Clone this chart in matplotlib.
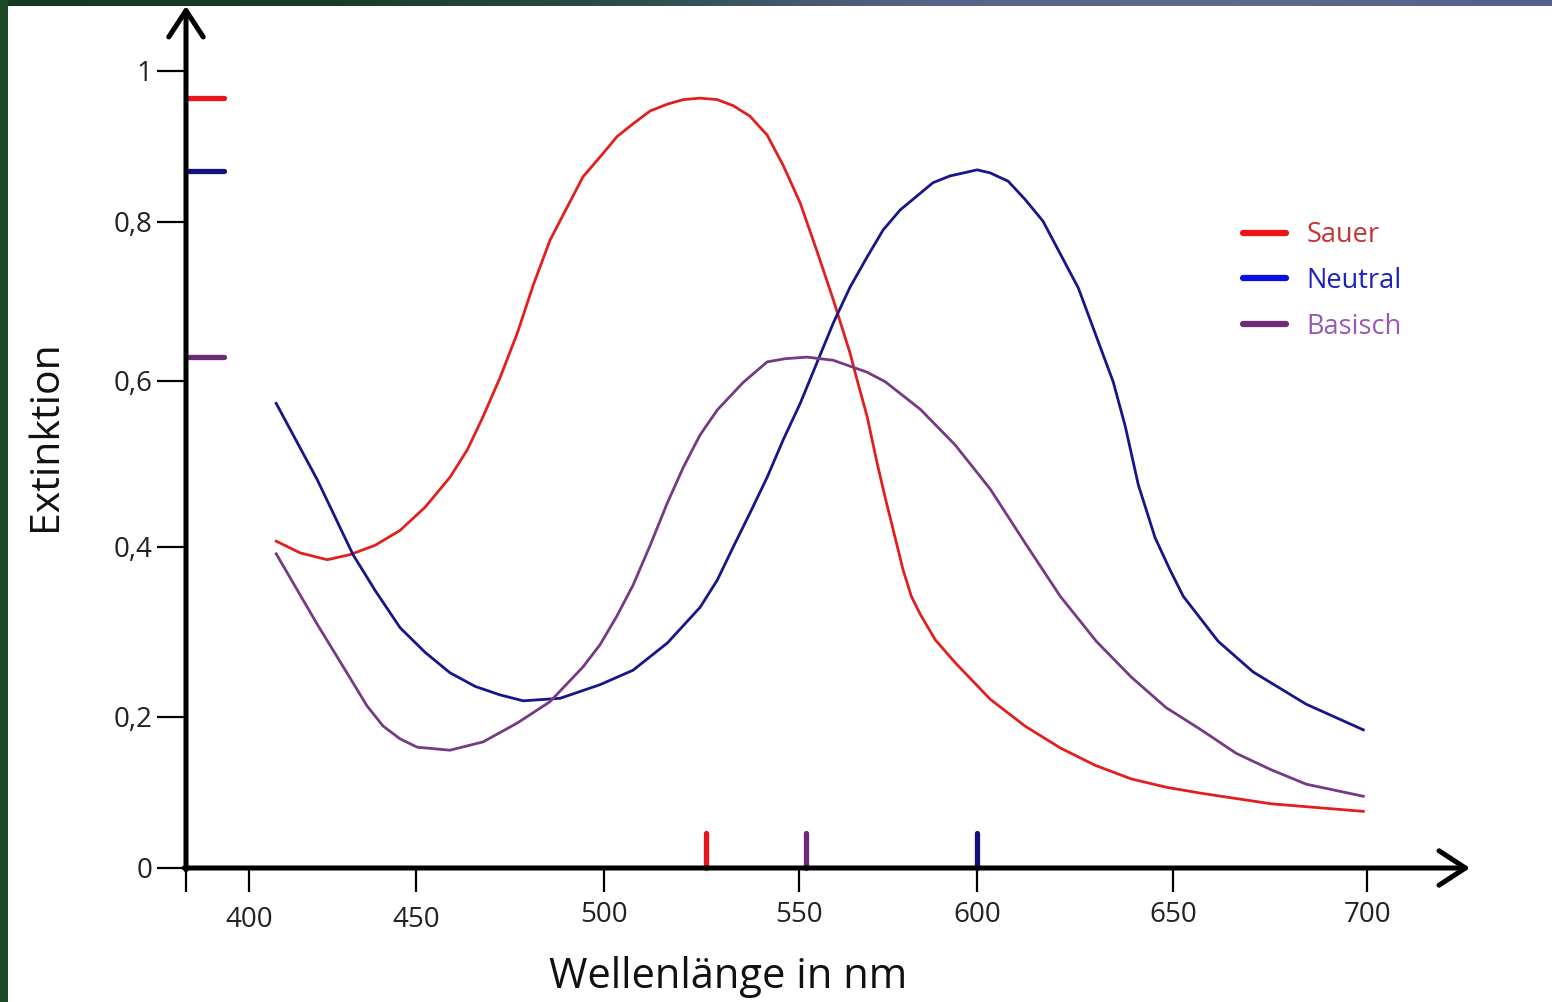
import numpy as np
import matplotlib.pyplot as plt
from matplotlib.lines import Line2D
from matplotlib.colors import LinearSegmentedColormap
from matplotlib.transforms import ScaledTranslation

plt.rcParams['font.family'] = ['Open Sans', 'DejaVu Sans']

# values (wavelength in nm, extinction)
wl_sauer = [408.1, 415.3, 423.4, 430.2, 437.7, 445.2, 452.4, 459.0, 463.6, 467.8,
            472.3, 476.9, 481.1, 485.6, 490.2, 494.4, 498.9, 503.3, 507.4, 511.8,
            516.2, 520.3, 524.6, 529.0, 533.1, 537.4, 541.8, 545.9, 550.3, 555.1,
            559.6, 564.3, 566.3, 569.1, 571.9, 574.2, 579.2, 581.5, 584.0, 588.2,
            593.8, 603.3, 612.2, 621.2, 630.1, 639.3, 648.2, 657.2, 675.3, 699.0]
ext_sauer = [0.407, 0.393, 0.385, 0.391, 0.402, 0.420, 0.448, 0.484, 0.517, 0.557,
             0.604, 0.660, 0.720, 0.777, 0.820, 0.860, 0.886, 0.913, 0.930, 0.947,
             0.956, 0.962, 0.964, 0.962, 0.954, 0.940, 0.915, 0.875, 0.825, 0.762,
             0.702, 0.635, 0.601, 0.557, 0.501, 0.459, 0.373, 0.342, 0.321, 0.291,
             0.264, 0.221, 0.188, 0.159, 0.136, 0.118, 0.107, 0.099, 0.085, 0.075]

wl_neutral = [408.1, 420.4, 431.1, 437.7, 445.2, 452.4, 459.0, 465.7, 472.3, 478.5,
              488.3, 498.9, 507.4, 516.2, 524.6, 529.0, 533.1, 537.4, 541.8, 545.9,
              550.3, 559.6, 564.3, 569.1, 573.6, 578.4, 587.6, 592.4, 597.2, 600.0,
              603.3, 607.9, 612.2, 616.8, 625.8, 630.1, 634.7, 637.8, 641.1, 645.4,
              649.2, 652.6, 661.6, 670.6, 684.3, 699.0]
ext_neutral = [0.573, 0.481, 0.391, 0.349, 0.305, 0.276, 0.252, 0.236, 0.226, 0.219,
               0.222, 0.238, 0.255, 0.287, 0.329, 0.361, 0.400, 0.441, 0.484, 0.529,
               0.573, 0.673, 0.718, 0.756, 0.790, 0.816, 0.852, 0.861, 0.866, 0.869,
               0.865, 0.854, 0.830, 0.801, 0.717, 0.660, 0.599, 0.545, 0.475, 0.411,
               0.373, 0.342, 0.289, 0.253, 0.215, 0.183]

wl_basisch = [408.1, 420.4, 430.2, 435.3, 440.1, 445.2, 450.3, 459.0, 467.8, 476.9,
              485.6, 494.4, 498.9, 503.3, 507.4, 511.8, 516.2, 520.3, 524.6, 529.0,
              535.6, 541.8, 546.4, 552.2, 559.6, 569.1, 574.2, 584.0, 593.8, 603.3,
              612.2, 621.2, 630.4, 639.3, 648.2, 657.2, 666.2, 675.3, 684.3, 699.0]
ext_basisch = [0.392, 0.309, 0.246, 0.213, 0.188, 0.171, 0.160, 0.156, 0.167, 0.192,
               0.218, 0.259, 0.285, 0.319, 0.355, 0.402, 0.453, 0.496, 0.535, 0.565,
               0.598, 0.624, 0.628, 0.630, 0.626, 0.611, 0.599, 0.566, 0.523, 0.470,
               0.405, 0.342, 0.289, 0.247, 0.211, 0.183, 0.152, 0.130, 0.111, 0.095]

names = ['Sauer', 'Neutral', 'Basisch']
peak_wl = [526, 600, 552]
peak_ext = [0.964, 0.868, 0.630]

x_ticks = [400, 450, 500, 550, 600, 650, 700]
y_ticks = [0, 0.2, 0.4, 0.6, 0.8, 1.0]
y_ticklabels = ['0', '0,2', '0,4', '0,6', '0,8', '1']

# the drawing has unevenly spaced ticks -> piecewise linear scales
wl_knots = [370, 400, 450, 500, 550, 600, 650, 700, 740]
wl_stretch = [148.8, 249, 416, 604, 799, 977, 1173, 1367, 1522.2]
ext_knots = [-0.2, 0, 0.2, 0.4, 0.6, 0.8, 1.0, 1.2]
ext_stretch = [-151, 0, 151, 321, 487, 646, 797, 948]

def x_fwd(v):
    return np.interp(v, wl_knots, wl_stretch)

def x_inv(v):
    return np.interp(v, wl_stretch, wl_knots)

def y_fwd(v):
    return np.interp(v, ext_knots, ext_stretch)

def y_inv(v):
    return np.interp(v, ext_stretch, ext_knots)

curve_colors = ['#e21f1f', '#16168a', '#763a84']
mark_colors = ['#e8141c', '#12127e', '#6a2a74']
legend_line_colors = ['#ee1414', '#0a10e2', '#6e2c76']
legend_text_colors = ['#c83232', '#1c24bc', '#9a58b4']

fig = plt.figure(figsize=(15.52, 10.02), dpi=100)
fig.patch.set_facecolor('white')

# dark slide border (left and top)
top = fig.add_axes([0, 1 - 6 / 1002, 1, 6 / 1002])
grad = np.linspace(0, 1, 400)[None, :]
cm = LinearSegmentedColormap.from_list('b', ['#163a20', '#1a3a24', '#2f4a4a', '#55648a', '#5b6c8a', '#52608c'])
top.imshow(grad, aspect='auto', cmap=cm)
top.axis('off')
left = fig.add_axes([0, 0, 8 / 1552, 1])
left.set_facecolor('#1d4a26')
left.set_xticks([])
left.set_yticks([])
for s in left.spines.values():
    s.set_visible(False)

ax = fig.add_axes([186 / 1552, 134 / 1002, 1284 / 1552, 862 / 1002])
ax.set_xscale('function', functions=(x_fwd, x_inv))
ax.set_yscale('function', functions=(y_fwd, y_inv))
xmin, xmax = 381.1, 726.5
ax.set_xlim(xmin, xmax)
ax.set_ylim(0, 1.086)

for wl, ext, c in zip([wl_sauer, wl_neutral, wl_basisch],
                      [ext_sauer, ext_neutral, ext_basisch], curve_colors):
    ax.plot(wl, ext, color=c, lw=2.0, solid_joinstyle='round')

# peak markers on both axes
for w, e, c in zip(peak_wl, peak_ext, mark_colors):
    ax.plot([xmin, xmin + 11.5], [e, e], color=c, lw=3.8, solid_capstyle='round', clip_on=False)
    ax.plot([w, w], [0, 0.046], color=c, lw=3.8, solid_capstyle='round', clip_on=False)

for s in ax.spines.values():
    s.set_visible(False)

arrow = dict(arrowstyle='->,head_length=0.95,head_width=0.62', lw=3.6, color='black',
             shrinkA=0, shrinkB=0, mutation_scale=20)
ax.annotate('', xy=(1, 0), xytext=(-0.0015, 0), xycoords='axes fraction', arrowprops=arrow)
ax.annotate('', xy=(0, 1), xytext=(0, -0.002), xycoords='axes fraction', arrowprops=arrow)

ax.set_xticks([xmin] + x_ticks)
ax.set_xticklabels([''] + [str(t) for t in x_ticks])
ax.set_yticks(y_ticks)
ax.set_yticklabels(y_ticklabels)
ax.minorticks_off()
ax.tick_params(axis='x', direction='out', length=17, width=1.6, pad=7, labelsize=20,
               labelcolor='#222222')
ax.tick_params(axis='y', direction='out', length=21, width=1.6, pad=3, labelsize=20,
               labelcolor='#222222')
# the first two labels sit a little lower in the drawing
for lbl in ax.get_xticklabels()[1:3]:
    lbl.set_transform(lbl.get_transform() + ScaledTranslation(0, -0.05, fig.dpi_scale_trans))

ax.set_xlabel('Wellenlänge in nm', fontsize=30, color='#111111', va='baseline')
ax.xaxis.set_label_coords(0.422, -0.139)
ax.set_ylabel('Extinktion', fontsize=29.5, color='#111111', va='center')
ax.yaxis.set_label_coords(-0.109, 0.502)

handles = [Line2D([], [], color=c, lw=4.5, solid_capstyle='round') for c in legend_line_colors]
leg = ax.legend(handles, names, loc='upper left', bbox_to_anchor=(1243 / 1552, 1 - 221 / 1002),
                bbox_transform=fig.transFigure, frameon=False, fontsize=19.5,
                handlelength=1.6, handletextpad=0.75, labelspacing=0.66,
                borderpad=0, borderaxespad=0)
for t, c in zip(leg.get_texts(), legend_text_colors):
    t.set_color(c)

fig.savefig('out.png', dpi=100)
